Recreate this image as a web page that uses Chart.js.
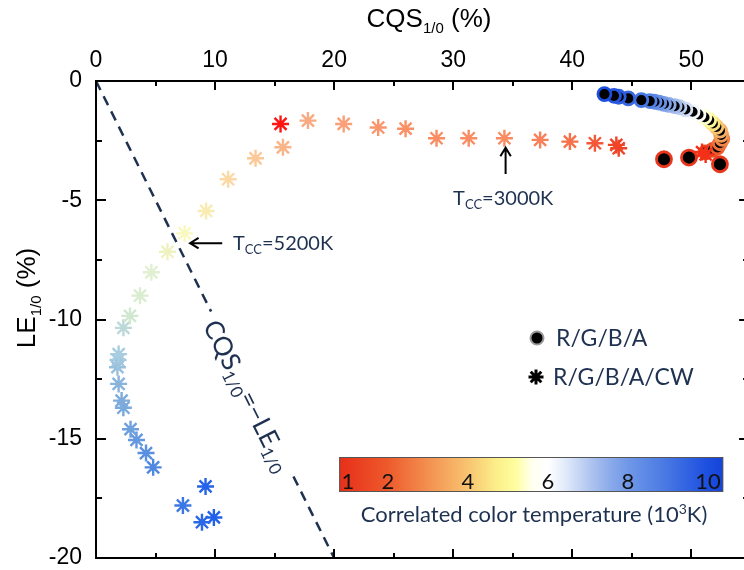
<!DOCTYPE html>
<html>
<head>
<meta charset="utf-8">
<script src="https://cdn.jsdelivr.net/npm/chart.js@4.4.1/dist/chart.umd.min.js"></script>
<style>
  html, body { margin: 0; padding: 0; background: #fff; overflow: hidden; }
  #wrap { width: 744px; height: 570px; overflow: hidden; }
  canvas { display: block; }
</style>
</head>
<body>
<div id="wrap"><canvas id="cqsChart" width="760" height="570"></canvas></div>
<script>
// ---- data ----
// R/G/B/A/CW mixtures (stars)
const starCQS = [9.9, 8.9, 9.2, 7.3, 4.8, 4.2, 3.4, 2.9, 2.3, 2.15, 1.9, 1.8, 1.85, 1.9, 2.3, 2.85, 3.7, 4.65, 6.0, 7.45,
                 9.25, 11.1, 13.4, 15.7, 15.5, 17.8, 20.8, 23.7, 26.0, 28.6, 31.3, 34.3, 37.3, 39.8, 41.9, 43.7, 43.9, 50.9, 51.2];
const starLE  = [-18.3, -18.5, -17.0, -17.8, -16.2, -15.6, -15.05, -14.6, -13.7, -13.4, -12.7, -12.0, -11.7, -11.45, -10.35, -9.85, -9.0, -8.02, -7.16, -6.39,
                 -5.45, -4.12, -3.24, -2.78, -1.8, -1.66, -1.8, -1.95, -2.0, -2.4, -2.4, -2.4, -2.47, -2.54, -2.61, -2.68, -2.82, -2.98, -3.08];
const starCCT = [10, 9.8, 9.9, 9.3, 8.9, 8.7, 8.5, 8.3, 8.1, 8.0, 7.8, 7.5, 7.3, 7.1, 6.8, 6.5, 6.2, 6.0, 5.6, 5.2,
                 4.8, 4.2, 3.8, 3.4, 1.0, 3.3, 3.2, 3.1, 3.05, 3.0, 3.0, 3.0, 2.6, 2.3, 2.0, 1.7, 1.7, 1.3, 1.3];

// R/G/B/A mixtures (circles), warm end first so the cold end sits on top
const circCQS = [52.4, 47.7, 49.8, 51.2, 51.8, 52.2, 52.4, 52.6, 52.5, 52.4, 52.1, 51.8, 51.5, 51.1, 50.6,
                 50.1, 49.5, 49.0, 48.6, 48.1, 47.7, 47.3, 46.9, 46.5, 45.8, 44.7, 43.9, 43.5, 42.7];
const circLE  = [-3.49, -3.28, -3.21, -2.99, -2.89, -2.78, -2.61, -2.43, -2.26, -2.08, -1.92, -1.78, -1.64, -1.52, -1.4,
                 -1.29, -1.19, -1.1, -1.05, -1.0, -0.96, -0.91, -0.87, -0.84, -0.8, -0.73, -0.66, -0.62, -0.55];
const circCCT = [1.0, 1.0, 1.0, 1.4, 1.7, 2.0, 2.4, 2.8, 3.2, 3.6, 4.0, 4.5, 5.0, 5.4, 5.8,
                 6.2, 6.6, 6.9, 7.2, 7.5, 7.8, 8.1, 8.4, 8.7, 9.0, 9.3, 9.6, 9.8, 10];

// reference line CQS = -LE
const lineCQS = [0, 20];
const lineLE  = [0, -20];

// axis ticks
const xTicks = [0, 10, 20, 30, 40, 50];
const xMinor = [5, 15, 25, 35, 45];
const yTicks = [0, -5, -10, -15, -20];
const yMinor = [-2.5, -7.5, -12.5, -17.5];
const cbarTicks = [1, 2, 4, 6, 8, 10];

// ---- colour maps ----
const CBAR_STOPS = [
  [0.78, '#e8301a'], [1, '#e8361c'], [2, '#ee5a2c'], [3, '#f39050'], [4, '#f8c470'],
  [4.7, '#fcee88'], [5.2, '#fffea0'], [5.6, '#fffff0'], [6.0, '#ffffff'], [6.4, '#e4ecfa'],
  [7.0, '#b4c8f0'], [7.6, '#88a8ea'], [8.0, '#7098e8'], [9.0, '#4676e2'], [10, '#1c4ee0'], [10.4, '#1444d8']
];
const STAR_STOPS = [
  [1.0, '#ff1414'], [1.3, '#f43018'], [1.7, '#f04428'], [2.0, '#f45838'], [2.3, '#f6704a'],
  [2.6, '#f8805a'], [3.0, '#f98c62'], [3.2, '#f9a078'], [3.4, '#f9b488'], [3.8, '#fcc898'],
  [4.2, '#fdd8a4'], [4.8, '#f8ecb0'], [5.2, '#f9f8c0'], [5.6, '#eef2c0'], [6.0, '#e0f0d0'],
  [6.5, '#d0e8d0'], [6.8, '#bcd8d8'], [7.1, '#a8cce0'], [7.5, '#98c0dc'], [7.8, '#88b4dc'],
  [8.1, '#78a8dc'], [8.5, '#6498e0'], [8.9, '#5088e0'], [9.3, '#3c78e4'], [9.8, '#2a68e8'], [10, '#2060ea']
];

function hexRgb(h) {
  const n = parseInt(h.slice(1), 16);
  return [n >> 16, (n >> 8) & 255, n & 255];
}
function colorAt(stops, v) {
  if (v <= stops[0][0]) return stops[0][1];
  for (let i = 1; i < stops.length; i++) {
    if (v <= stops[i][0]) {
      const t = (v - stops[i - 1][0]) / (stops[i][0] - stops[i - 1][0]);
      const a = hexRgb(stops[i - 1][1]), b = hexRgb(stops[i][1]);
      return 'rgb(' + a.map((x, k) => Math.round(x + (b[k] - x) * t)).join(',') + ')';
    }
  }
  return stops[stops.length - 1][1];
}

const NAVY = '#1f3150';
const ARIAL = "'Liberation Sans', Arial, sans-serif";
const SANS = "Lato, 'Open Sans', sans-serif";

// ---- text helpers (for sub/superscripts) ----
function richWidth(ctx, parts, family) {
  let w = 0;
  parts.forEach(p => { ctx.font = p.size + 'px ' + family; w += ctx.measureText(p.text).width; });
  return w;
}
function drawRich(ctx, parts, family, x, y, align) {
  let cx = align === 'center' ? x - richWidth(ctx, parts, family) / 2 : x;
  ctx.textAlign = 'left';
  ctx.textBaseline = 'alphabetic';
  parts.forEach(p => {
    ctx.font = p.size + 'px ' + family;
    ctx.fillText(p.text, cx, y + (p.dy || 0));
    cx += ctx.measureText(p.text).width;
  });
}
function arrow(ctx, x0, y0, x1, y1) {
  const a = Math.atan2(y1 - y0, x1 - x0), h = 10;
  ctx.beginPath();
  ctx.moveTo(x0, y0); ctx.lineTo(x1, y1);
  ctx.moveTo(x1 - h * Math.cos(a - 0.55), y1 - h * Math.sin(a - 0.55));
  ctx.lineTo(x1, y1);
  ctx.lineTo(x1 - h * Math.cos(a + 0.55), y1 - h * Math.sin(a + 0.55));
  ctx.stroke();
}

// label on the dashed line + arrows with Tcc notes
const notesPlugin = {
  id: 'notes',
  afterDatasetsDraw(chart) {
    const { ctx, scales: { x, y } } = chart;
    ctx.save();
    // line label sits in a gap of the dashed line
    const ang = Math.atan2(y.getPixelForValue(-20) - y.getPixelForValue(0), x.getPixelForValue(20) - x.getPixelForValue(0));
    const parts = [
      { text: 'CQS', size: 26 }, { text: '1/0', size: 17, dy: 5 },
      { text: '=\u2212LE', size: 26 }, { text: '1/0', size: 17, dy: 5 }
    ];
    const w = richWidth(ctx, parts, SANS);
    ctx.translate(x.getPixelForValue(13.1), y.getPixelForValue(-13.1));
    ctx.rotate(ang);
    ctx.fillStyle = '#fff';
    ctx.fillRect(-w / 2 - 9, -5, w + 18, 10);
    ctx.fillStyle = NAVY;
    drawRich(ctx, parts, SANS, 0, 14, 'center');
    ctx.restore();

    ctx.save();
    ctx.strokeStyle = '#000';
    ctx.lineWidth = 2;
    arrow(ctx, x.getPixelForValue(10.6), y.getPixelForValue(-6.8), x.getPixelForValue(7.9), y.getPixelForValue(-6.8));
    arrow(ctx, x.getPixelForValue(34.4), y.getPixelForValue(-3.9), x.getPixelForValue(34.4), y.getPixelForValue(-2.8));
    ctx.fillStyle = NAVY;
    drawRich(ctx, [{ text: 'T', size: 20 }, { text: 'CC', size: 13, dy: 4 }, { text: '=5200K', size: 20 }],
      SANS, x.getPixelForValue(11.5), y.getPixelForValue(-6.8) + 7, 'left');
    drawRich(ctx, [{ text: 'T', size: 20 }, { text: 'CC', size: 13, dy: 4 }, { text: '=3000K', size: 20 }],
      SANS, x.getPixelForValue(34.2), y.getPixelForValue(-4.9) + 7, 'center');
    ctx.restore();
  },
  afterDraw(chart) {
    const { ctx, chartArea: a, scales: { x, y } } = chart;
    ctx.save();
    // frame + inward ticks
    ctx.strokeStyle = '#000';
    ctx.lineWidth = 2;
    ctx.strokeRect(a.left, a.top, a.right - a.left, a.bottom - a.top);
    ctx.beginPath();
    [[xTicks, 9], [xMinor, 5]].forEach(([vals, len]) => vals.forEach(v => {
      const px = Math.round(x.getPixelForValue(v));
      ctx.moveTo(px, a.top); ctx.lineTo(px, a.top + len);
      ctx.moveTo(px, a.bottom); ctx.lineTo(px, a.bottom - len);
    }));
    [[yTicks, 10], [yMinor, 6]].forEach(([vals, len]) => vals.forEach(v => {
      const py = Math.round(y.getPixelForValue(v));
      ctx.moveTo(a.left, py); ctx.lineTo(a.left + len, py);
      ctx.moveTo(a.right, py); ctx.lineTo(a.right - len, py);
    }));
    ctx.stroke();

    // axis titles
    ctx.fillStyle = '#000';
    drawRich(ctx, [{ text: 'CQS', size: 26 }, { text: '1/0', size: 15, dy: 6 }, { text: ' (%)', size: 26 }], ARIAL, 429, 27, 'center');
    ctx.save();
    ctx.translate(35, 298);
    ctx.rotate(-Math.PI / 2);
    drawRich(ctx, [{ text: 'LE', size: 26 }, { text: '1/0', size: 15, dy: 6 }, { text: ' (%)', size: 26 }], ARIAL, 0, 0, 'center');
    ctx.restore();

    // legend
    const H = Chart.helpers;
    ctx.fillStyle = '#000';
    ctx.strokeStyle = '#9a9a9a';
    H.drawPoint(ctx, { pointStyle: 'circle', radius: 6.5, borderWidth: 2.5, rotation: 0 }, 537, 338);
    ctx.strokeStyle = '#000';
    ctx.lineWidth = 3;
    H.drawPoint(ctx, { pointStyle: 'star', radius: 7.5, borderWidth: 3, rotation: 0 }, 536, 377);
    ctx.fillStyle = NAVY;
    ctx.font = '23px ' + SANS;
    ctx.textAlign = 'left';
    ctx.textBaseline = 'middle';
    ctx.fillText('R/G/B/A', 556, 339);
    ctx.fillText('R/G/B/A/CW', 553, 378);

    // colour bar
    const cbX = v => 348 + (v - 1) * 40;
    const L = cbX(0.78), R = cbX(10.38), T = 457, B = 492;
    const g = ctx.createLinearGradient(L, 0, R, 0);
    CBAR_STOPS.forEach(([v, c]) => g.addColorStop(Math.min(1, Math.max(0, (cbX(v) - L) / (R - L))), c));
    ctx.fillStyle = g;
    ctx.fillRect(L, T, R - L, B - T);
    ctx.strokeStyle = '#555';
    ctx.lineWidth = 1;
    ctx.strokeRect(L + 0.5, T + 0.5, R - L - 1, B - T - 1);
    ctx.fillStyle = '#111';
    ctx.font = '22px ' + SANS;
    ctx.textAlign = 'center';
    ctx.textBaseline = 'alphabetic';
    cbarTicks.forEach(v => ctx.fillText(String(v), cbX(v), 489));
    ctx.fillStyle = NAVY;
    drawRich(ctx, [{ text: 'Correlated color temperature (10', size: 22 }, { text: '3', size: 14, dy: -8 }, { text: 'K)', size: 22 }],
      SANS, 534, 522, 'center');
    ctx.restore();
  }
};

const starPts = starCQS.map((v, i) => ({ x: v, y: starLE[i] }));
const circPts = circCQS.map((v, i) => ({ x: v, y: circLE[i] }));
const linePts = lineCQS.map((v, i) => ({ x: v, y: lineLE[i] }));

new Chart(document.getElementById('cqsChart'), {
  type: 'scatter',
  data: {
    datasets: [
      {
        label: 'R/G/B/A/CW',
        data: starPts,
        order: 0,
        pointStyle: 'star',
        pointRadius: 8.5,
        pointBorderWidth: 2.4,
        pointBorderColor: c => colorAt(STAR_STOPS, starCCT[c.dataIndex] ?? 5),
        pointBackgroundColor: c => colorAt(STAR_STOPS, starCCT[c.dataIndex] ?? 5)
      },
      {
        label: 'R/G/B/A',
        data: circPts,
        order: 1,
        pointStyle: 'circle',
        pointRadius: c => (c.dataIndex < 3 ? 7.5 : 6.5),
        pointBorderWidth: 2.8,
        pointBackgroundColor: '#000',
        pointBorderColor: c => colorAt(CBAR_STOPS, circCCT[c.dataIndex] ?? 5)
      },
      {
        type: 'line',
        label: 'CQS = -LE',
        data: linePts,
        order: 2,
        borderColor: NAVY,
        borderWidth: 2.5,
        borderDash: [10, 7],
        pointRadius: 0,
        fill: false
      }
    ]
  },
  options: {
    responsive: false,
    animation: false,
    events: [],
    layout: { padding: { left: 0, top: 0, right: 8, bottom: 12 } },
    plugins: { legend: { display: false }, tooltip: { enabled: false } },
    scales: {
      x: {
        type: 'linear',
        position: 'top',
        min: 0,
        max: 54.85,
        afterBuildTicks: s => { s.ticks = xTicks.map(v => ({ value: v })); },
        afterFit: s => { s.height = 81; s.paddingLeft = 0; s.paddingRight = 0; s.paddingTop = 0; s.paddingBottom = 0; },
        grid: { display: false, drawTicks: false },
        border: { display: false },
        ticks: { padding: 7, color: '#000', autoSkip: false, maxRotation: 0,
                 font: { family: ARIAL, size: 23 }, callback: v => String(v) }
      },
      y: {
        type: 'linear',
        position: 'left',
        min: -20,
        max: 0,
        afterBuildTicks: s => { s.ticks = yTicks.map(v => ({ value: v })); },
        afterFit: s => { s.width = 96; s.paddingLeft = 0; s.paddingRight = 0; s.paddingTop = 0; s.paddingBottom = 0; },
        grid: { display: false, drawTicks: false },
        border: { display: false },
        ticks: { padding: 14, color: '#000', autoSkip: false,
                 font: { family: ARIAL, size: 23 }, callback: v => String(v) }
      }
    }
  },
  plugins: [notesPlugin]
});
</script>
</body>
</html>
